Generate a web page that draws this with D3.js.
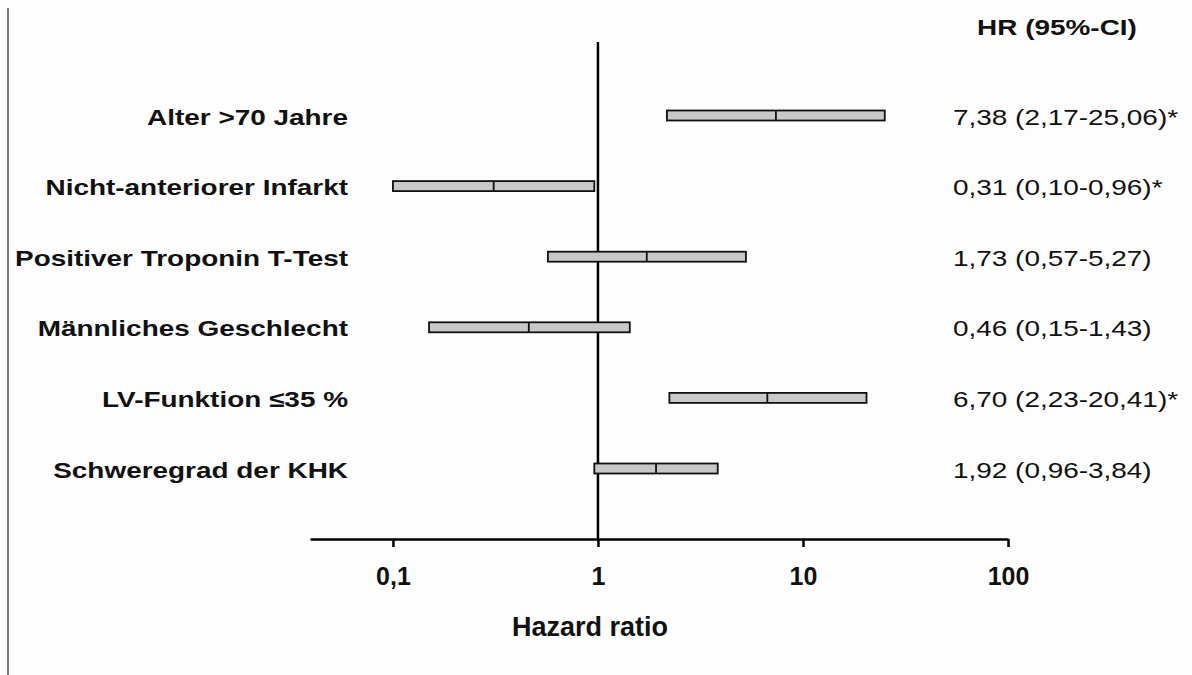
<!DOCTYPE html>
<meta charset="utf-8">
<style>
body {
  margin: 0;
  background: #fdfdfd;
}
text {
  font-family: Arial, "Liberation Sans", sans-serif;
  fill: #111;
}
</style>
<body>
<script src="https://d3js.org/d3.v7.min.js"></script>
<script>
var width = 1192;
var height = 675;

// data
var labels = ["Alter >70 Jahre", "Nicht-anteriorer Infarkt", "Positiver Troponin T-Test",
              "Männliches Geschlecht", "LV-Funktion \u226435 %", "Schweregrad der KHK"];
var hr    = [7.38, 0.31, 1.73, 0.46, 6.70, 1.92];
var lower = [2.17, 0.10, 0.57, 0.15, 2.23, 0.96];
var upper = [25.06, 0.96, 5.27, 1.43, 20.41, 3.84];
var signif = [true, true, false, false, true, false];
var tickVals = [0.1, 1, 10, 100];

var stretch = 1.27; // row/value text in the figure is widened

var svg = d3.select("body").append("svg")
    .attr("width", width)
    .attr("height", height);

// thin gray border on the left
svg.append("line")
    .attr("x1", 8).attr("x2", 8)
    .attr("y1", 8).attr("y2", height)
    .style("stroke", "#7a7a7a")
    .style("stroke-width", 2);

var x = d3.scaleLog().domain([0.0394, 100]).range([310, 1008]);
var y = d3.scalePoint().domain(labels).range([115.5, 468.5]);
var axisY = 539;

function fmt(v) {
  return v.toFixed(2).replace(".", ",");
}

// reference line at HR = 1
svg.append("line")
    .attr("x1", x(1)).attr("x2", x(1))
    .attr("y1", 42).attr("y2", axisY)
    .style("stroke", "#000")
    .style("stroke-width", 2.5);

// x axis
var axis = d3.axisBottom(x)
    .tickValues(tickVals)
    .tickSize(8)
    .tickSizeOuter(0)
    .tickPadding(20)
    .tickFormat(function(d) { return String(d).replace(".", ","); });

var gx = svg.append("g")
    .attr("transform", "translate(0," + axisY + ")")
    .call(axis);
gx.select(".domain").style("stroke", "#000").style("stroke-width", 2.5);
gx.selectAll(".tick line").style("stroke", "#000").style("stroke-width", 2.5);
gx.selectAll(".tick text")
    .style("font-size", "25px")
    .style("font-weight", "bold")
    .style("font-family", "Arial, 'Liberation Sans', sans-serif")
    .attr("fill", "#111");

// axis title
svg.append("text")
    .attr("x", 590)
    .attr("y", 636)
    .attr("text-anchor", "middle")
    .style("font-size", "27px")
    .style("font-weight", "bold")
    .text("Hazard ratio");

// header
svg.append("text")
    .attr("transform", "translate(1057,35) scale(" + stretch + ",1)")
    .attr("text-anchor", "middle")
    .style("font-size", "22px")
    .style("font-weight", "bold")
    .text("HR (95%-CI)");

var rows = svg.selectAll(".row")
    .data(labels)
    .enter().append("g")
    .attr("class", "row");

// row labels
rows.append("text")
    .attr("transform", function(d) { return "translate(348," + (y(d) + 9) + ") scale(" + stretch + ",1)"; })
    .attr("text-anchor", "end")
    .style("font-size", "22px")
    .style("font-weight", "bold")
    .text(function(d) { return d; });

// CI boxes
var barH = 10;
rows.append("rect")
    .attr("x", function(d, i) { return x(lower[i]); })
    .attr("y", function(d) { return y(d) - barH / 2; })
    .attr("width", function(d, i) { return x(upper[i]) - x(lower[i]); })
    .attr("height", barH)
    .style("fill", "#c8c8c8")
    .style("stroke", "#111")
    .style("stroke-width", 1.8);

// point estimate
rows.append("line")
    .attr("x1", function(d, i) { return x(hr[i]); })
    .attr("x2", function(d, i) { return x(hr[i]); })
    .attr("y1", function(d) { return y(d) - barH / 2; })
    .attr("y2", function(d) { return y(d) + barH / 2; })
    .style("stroke", "#111")
    .style("stroke-width", 1.8);

// value column
rows.append("text")
    .attr("transform", function(d) { return "translate(953," + (y(d) + 9) + ") scale(" + stretch + ",1)"; })
    .style("font-size", "22px")
    .text(function(d, i) {
      return fmt(hr[i]) + " (" + fmt(lower[i]) + "-" + fmt(upper[i]) + ")" + (signif[i] ? "*" : "");
    });
</script>
